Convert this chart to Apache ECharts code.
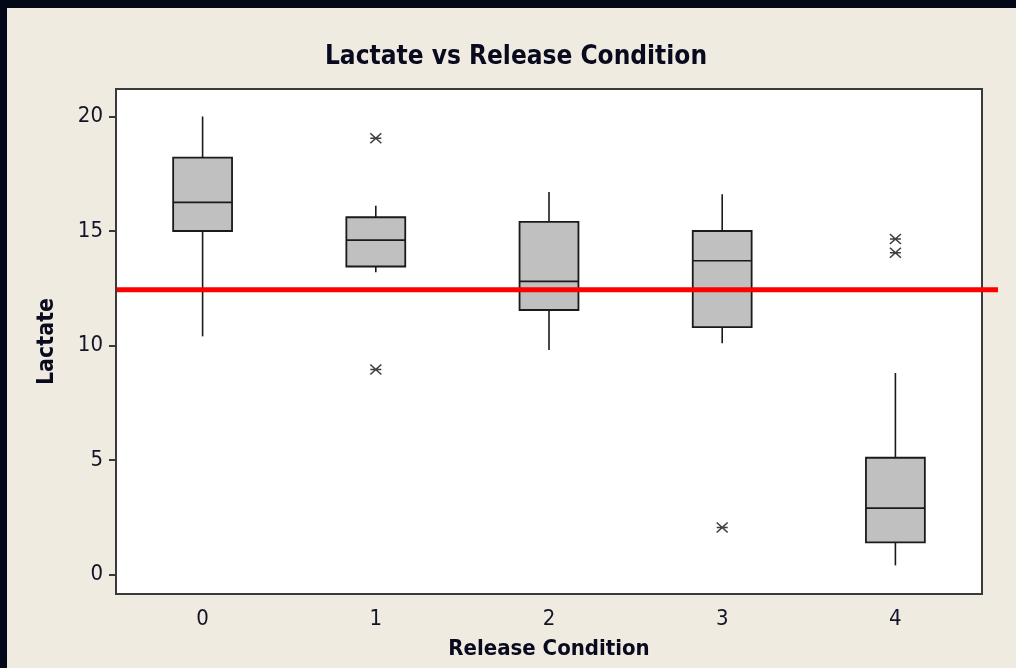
<!DOCTYPE html>
<html>
<head>
<meta charset="utf-8">
<script src="https://cdn.jsdelivr.net/npm/echarts@6/dist/echarts.min.js"></script>
<style>
  html, body { margin: 0; padding: 0; width: 1016px; height: 668px; background: #030819; overflow: hidden; }
  #chart { position: absolute; left: 7px; top: 8px; width: 1009px; height: 660px; background: #efebe1; }
</style>
</head>
<body>
<div id="chart"></div>
<script>
// Lactate by release condition: five-number box summaries plus flagged outliers
const categories = ['0', '1', '2', '3', '4'];
const whiskerLow  = [10.4, 13.2, 9.8, 10.1, 0.4];
const q1          = [15.0, 13.45, 11.55, 10.8, 1.4];
const median      = [16.25, 14.6, 12.8, 13.7, 2.9];
const q3          = [18.2, 15.6, 15.4, 15.0, 5.1];
const whiskerHigh = [20.0, 16.1, 16.7, 16.6, 8.8];
const outlierCategory = [1, 1, 3, 4, 4];
const outlierValue    = [19.05, 8.95, 2.05, 14.65, 14.05];
const referenceLevel = 12.43;
const yTicks = [0, 5, 10, 15, 20];

const boxRows = categories.map((c, i) => [i, whiskerLow[i], q1[i], median[i], q3[i], whiskerHigh[i]]);
const outlierRows = outlierCategory.map((c, i) => [c, outlierValue[i]]);

const fontFace = '"DejaVu Sans Condensed", "DejaVu Sans", sans-serif';
const inkColor = '#141428';
const frameColor = '#3a3a3a';

// Minitab-style asterisk marker: a cross of diagonals with a horizontal bar
const asterisk = 'path://M0,0 L10,10 M10,0 L0,10 M0,5 L10,5';

function renderBox(params, api) {
  const idx = api.value(0);
  const x = api.coord([idx, 0])[0];
  const half = api.size([1, 0])[0] * 0.34 / 2;
  const yLow = api.coord([idx, api.value(1)])[1];
  const yQ1 = api.coord([idx, api.value(2)])[1];
  const yMed = api.coord([idx, api.value(3)])[1];
  const yQ3 = api.coord([idx, api.value(4)])[1];
  const yHigh = api.coord([idx, api.value(5)])[1];
  const lineStyle = { stroke: '#1a1a1a', lineWidth: 1.6 };
  return {
    type: 'group',
    children: [
      { type: 'line', shape: { x1: x, y1: yQ3, x2: x, y2: yHigh }, style: lineStyle },
      { type: 'line', shape: { x1: x, y1: yQ1, x2: x, y2: yLow }, style: lineStyle },
      { type: 'rect', shape: { x: x - half, y: yQ3, width: half * 2, height: yQ1 - yQ3 },
        style: { fill: '#c0c0c0', stroke: '#1a1a1a', lineWidth: 1.8 } },
      { type: 'line', shape: { x1: x - half, y1: yMed, x2: x + half, y2: yMed }, style: lineStyle }
    ]
  };
}

function renderReference(params, api) {
  const cs = params.coordSys;
  const y = api.coord([0, api.value(0)])[1];
  return {
    type: 'line',
    shape: { x1: cs.x + 1, y1: y, x2: cs.x + cs.width + 16, y2: y },
    style: { stroke: '#ff0000', lineWidth: 5 }
  };
}

const chart = echarts.init(document.getElementById('chart'));
chart.setOption({
  animation: false,
  backgroundColor: '#efebe1',
  title: {
    text: 'Lactate vs Release Condition',
    left: 504,
    textAlign: 'center',
    top: 31,
    textStyle: { fontFamily: fontFace, fontWeight: 'bold', fontSize: 26, color: '#0a0a1e' }
  },
  grid: {
    left: 109, top: 81, right: 34, bottom: 74,
    outerBoundsMode: 'none',
    containLabel: false,
    show: true, backgroundColor: '#ffffff', borderColor: frameColor, borderWidth: 2
  },
  xAxis: {
    type: 'category',
    data: categories,
    boundaryGap: true,
    name: 'Release Condition',
    nameLocation: 'middle',
    nameGap: 44,
    nameTextStyle: { fontFamily: fontFace, fontWeight: 'bold', fontSize: 22, color: '#0a0a1e' },
    axisLine: { onZero: false, lineStyle: { color: frameColor, width: 2 } },
    axisTick: { alignWithLabel: true, length: 8, lineStyle: { color: frameColor, width: 2 } },
    axisLabel: { margin: 14, fontFamily: fontFace, fontSize: 22, color: inkColor },
    splitLine: { show: false }
  },
  yAxis: {
    type: 'value',
    min: -0.85,
    max: 21.2,
    name: 'Lactate',
    nameLocation: 'middle',
    nameGap: 57,
    nameTextStyle: { fontFamily: fontFace, fontWeight: 'bold', fontSize: 23, color: '#0a0a1e' },
    axisLine: { show: true, onZero: false, lineStyle: { color: frameColor, width: 2 } },
    axisTick: { show: true, length: 7, customValues: yTicks, lineStyle: { color: frameColor, width: 2 } },
    axisLabel: { margin: 13, customValues: yTicks, fontFamily: fontFace, fontSize: 22, color: inkColor },
    splitLine: { show: false }
  },
  series: [
    {
      type: 'custom',
      renderItem: renderBox,
      data: boxRows,
      encode: { x: 0, y: [1, 2, 3, 4, 5] },
      z: 3
    },
    {
      type: 'scatter',
      data: outlierRows,
      symbol: asterisk,
      symbolSize: [11, 10],
      itemStyle: { color: 'transparent', borderColor: '#111111', borderWidth: 1.5 },
      z: 4
    },
    {
      type: 'custom',
      renderItem: renderReference,
      data: [[referenceLevel]],
      encode: { y: 0 },
      clip: false,
      z: 10
    }
  ]
});
</script>
</body>
</html>
